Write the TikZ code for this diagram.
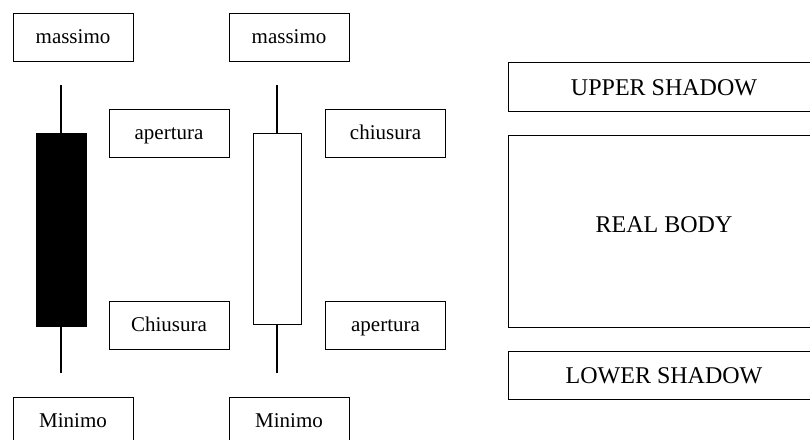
\documentclass[tikz,border=0pt]{standalone}
\usepackage{fontspec}
\setmainfont{Liberation Serif}
\usetikzlibrary{positioning}
\tikzset{line width=1.5pt,
  labelbox/.style={draw,rectangle,minimum width=120pt,minimum height=48pt,
    inner sep=0pt,text height=16pt,text depth=4pt,font=\fontsize{21}{25}\selectfont},
  partbox/.style={draw,rectangle,minimum width=312pt,inner sep=0pt,
    text height=21pt,text depth=3pt,font=\fontsize{24}{28}\selectfont},
  bearbody/.style={draw,fill=black,minimum width=50pt,minimum height=193pt,inner sep=0pt},
  bullbody/.style={draw,fill=white,minimum width=48pt,minimum height=191pt,inner sep=0pt},
  wick/.style={line width=1.2pt}}
\begin{document}
\begin{tikzpicture}[x=1pt,y=-1pt]
\useasboundingbox (0,0) rectangle (810,439);
% black candle
\node[bearbody] (bear) at (61,229.5) {};
\coordinate (beartop) at (61,85);\coordinate (bearbot) at (61,373);
\draw[wick] (beartop)--(bear.north);\draw[wick] (bear.south)--(bearbot);
\node[labelbox] (max1) at (73,37) {massimo};
\node[labelbox] (open1) at (169,133) {apertura};
\node[labelbox] (close1) at (169,325) {Chiusura};
\node[labelbox] (min1) at (73,421) {Minimo};
% white candle
\node[bullbody] (bull) at (277,228.5) {};
\coordinate (bulltop) at (277,85);\coordinate (bullbot) at (277,373);
\draw[wick] (bulltop)--(bull.north);\draw[wick] (bull.south)--(bullbot);
\node[labelbox] (max2) at (289,37) {massimo};
\node[labelbox] (close2) at (385.5,133) {chiusura};
\node[labelbox] (open2) at (385.5,325) {apertura};
\node[labelbox] (min2) at (289,421) {Minimo};
% parts of a candle
\node[partbox,minimum height=49pt] (upper) at (664,86.5) {UPPER SHADOW};
\node[partbox,minimum height=192pt,text height=16pt,text depth=14pt] (body) at (664,231) {REAL BODY};
\node[partbox,minimum height=48pt,text height=19pt,text depth=3pt] (lower) at (664,375) {LOWER SHADOW};
\end{tikzpicture}
\end{document}
